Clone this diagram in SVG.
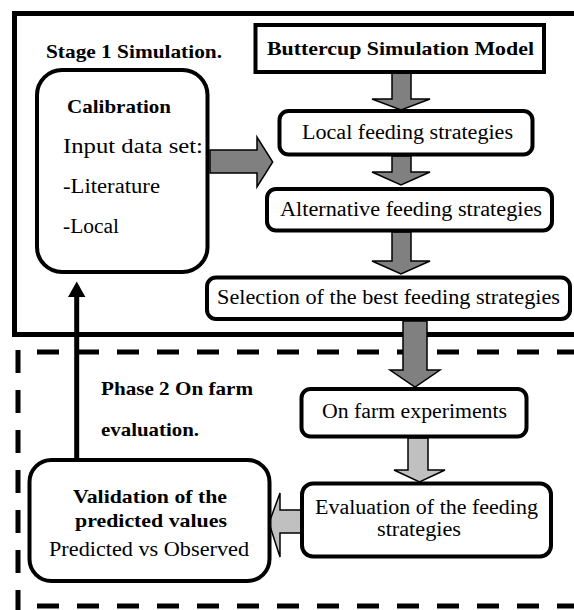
<svg xmlns="http://www.w3.org/2000/svg" width="574" height="610" viewBox="0 0 574 610">
<style>
.t{font-family:"Liberation Serif","Times New Roman",serif;font-size:20px;fill:#000}
.b{font-weight:bold;font-size:19.5px}
.box{fill:#fff;stroke:#000;stroke-width:4}
.ar1{fill:#808080;stroke:#000;stroke-width:1.5}
.ar2{fill:#c0c0c0;stroke:#000;stroke-width:1.5}
.frame{fill:none;stroke:#000;stroke-width:5}
.dash{fill:none;stroke:#000;stroke-width:5}
</style>
<rect width="574" height="610" fill="#fff"/>
<g id="frames">
<rect class="frame" x="14.5" y="13.5" width="600" height="321"/>
<line class="dash" x1="18" y1="350" x2="18" y2="612" stroke-dasharray="23 17"/>
<line class="dash" x1="37" y1="352" x2="580" y2="352" stroke-dasharray="22 18"/>
<line class="dash" x1="37" y1="606" x2="580" y2="606" stroke-dasharray="22 18"/>
</g>
<g id="connectors">
<polygon class="ar1" points="392,73 411,73 411,99 430,99 401,110 372,99 392,99"/>
<polygon class="ar1" points="392,156 411,156 411,172 430,172 401,185 372,172 392,172"/>
<polygon class="ar1" points="392,232 411,232 411,261 430,261 401,274 372,261 392,261"/>
<polygon class="ar1" points="403,321 427,321 427,370 440,370 415,387 390,370 403,370"/>
<polygon class="ar2" points="408,438 428,438 428,470 445,470 419.5,482 394,470 408,470"/>
<polygon class="ar2" points="302,510 280,510 280,493 269,523 280,557 280,533 302,533"/>
<polygon class="ar1" points="210,150 257,150 257,137 272.7,162 257,187 257,173 210,173"/>
<line x1="76.7" y1="460" x2="76.7" y2="294" stroke="#000" stroke-width="5"/>
<polygon points="68,297 85.4,297 76.7,281.5" fill="#000"/>
</g>
<g id="label-stage1"><text class="t b" x="46" y="58" textLength="176" lengthAdjust="spacingAndGlyphs">Stage 1 Simulation.</text></g>
<g id="buttercup">
<rect class="box" x="255.5" y="25" width="288.5" height="47"/>
<text class="t b" x="267" y="54.5" textLength="267" lengthAdjust="spacingAndGlyphs">Buttercup Simulation Model</text>
</g>
<g id="calibration">
<rect class="box" x="37" y="70" width="170.5" height="202" rx="25"/>
<text class="t b" x="67" y="113" textLength="104" lengthAdjust="spacingAndGlyphs">Calibration</text>
<text class="t" x="63" y="153" textLength="140" lengthAdjust="spacingAndGlyphs">Input data set:</text>
<text class="t" x="63" y="193" textLength="97" lengthAdjust="spacingAndGlyphs">-Literature</text>
<text class="t" x="63" y="233" textLength="56" lengthAdjust="spacingAndGlyphs">-Local</text>
</g>
<g id="local">
<rect class="box" x="279.5" y="111" width="253" height="43.5" rx="9"/>
<text class="t" x="302" y="138.5" textLength="211" lengthAdjust="spacingAndGlyphs">Local feeding strategies</text>
</g>
<g id="alternative">
<rect class="box" x="267" y="189" width="285" height="41.5" rx="9"/>
<text class="t" x="280" y="215.5" textLength="262" lengthAdjust="spacingAndGlyphs">Alternative feeding strategies</text>
</g>
<g id="selection">
<rect class="box" x="207" y="277.5" width="363" height="41.5" rx="9"/>
<text class="t" x="217" y="303.5" textLength="343" lengthAdjust="spacingAndGlyphs">Selection of the best feeding strategies</text>
</g>
<g id="label-phase2">
<text class="t b" x="101" y="395" textLength="152" lengthAdjust="spacingAndGlyphs">Phase 2 On farm</text>
<text class="t b" x="101" y="436" textLength="98" lengthAdjust="spacingAndGlyphs">evaluation.</text>
</g>
<g id="onfarm">
<rect class="box" x="301.5" y="389" width="225" height="47.5" rx="9"/>
<text class="t" x="322" y="418" textLength="185" lengthAdjust="spacingAndGlyphs">On farm experiments</text>
</g>
<g id="evaluation">
<rect class="box" x="302" y="483.5" width="249" height="73" rx="11"/>
<text class="t" x="315" y="514" textLength="223" lengthAdjust="spacingAndGlyphs">Evaluation of the feeding</text>
<text class="t" x="377" y="536" textLength="84" lengthAdjust="spacingAndGlyphs">strategies</text>
</g>
<g id="validation">
<rect class="box" x="29.5" y="460" width="240" height="121" rx="22"/>
<text class="t b" x="73" y="503" textLength="154" lengthAdjust="spacingAndGlyphs">Validation of the</text>
<text class="t b" x="75" y="527" textLength="152" lengthAdjust="spacingAndGlyphs">predicted values</text>
<text class="t" x="49" y="556" textLength="200" lengthAdjust="spacingAndGlyphs">Predicted vs Observed</text>
</g>
</svg>
